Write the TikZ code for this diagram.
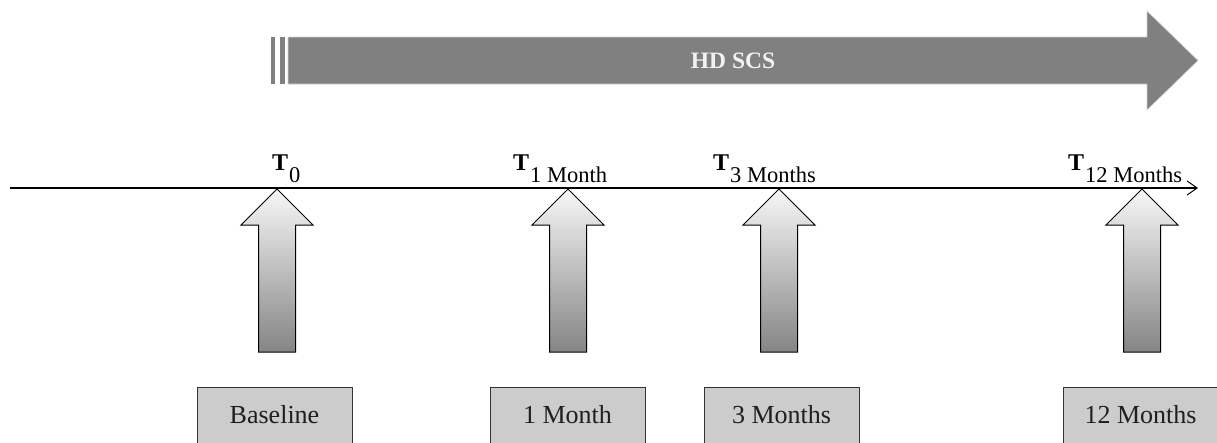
\documentclass[tikz,border=0pt]{standalone}
\usepackage{fontspec}
\setmainfont{Liberation Serif}
\usepackage{tikz}
\usetikzlibrary{arrows.meta}
\tikzset{
  boite/.style={draw=black!80, fill=black!20, line width=1pt},
  fleche/.style={draw=black, line width=1pt, top color=black!3, bottom color=black!48},
  etiquette/.style={anchor=base west, inner sep=0pt, font=\fontsize{24}{28}\selectfont\bfseries},
}
\begin{document}
\begin{tikzpicture}[x=1pt, y=-1pt, font=\fontsize{26}{30}\selectfont]
\useasboundingbox (0,0) rectangle (1217,442);
\clip (0,0) rectangle (1217,442);
% Fleche HD SCS
\fill[black!50] (271,37) rectangle (274.5,84);
\fill[black!50] (280,37) rectangle (284.5,84);
\filldraw[fill=black!50, draw=black!18, line width=0.6pt] (288,37) -- (1147,37) -- (1147,11) -- (1198,60.5) -- (1147,110) -- (1147,84) -- (288,84) -- cycle;
\node[text=black!5, font=\fontsize{23.5}{27}\selectfont\bfseries] (hdscs) at (733,61) {HD SCS};
% Axe
\coordinate (debut) at (10,188);
\coordinate (fin) at (1198,188);
\draw[line width=1.1pt, -{Straight Barb[length=10pt,width=14pt,line width=1pt]}] (debut) -- (fin);
% Temps
\foreach \x/\sub/\nom in {272/0/t0, 513/1 Month/t1, 713/3 Months/t3, 1068/12 Months/t12} {
  \node[etiquette] (\nom) at (\x,170) {T\hspace{1pt}\raisebox{-12pt}{\fontsize{22.5}{26}\mdseries\selectfont \sub}};
}
% Fleches
\foreach \x in {277,568,779,1142} {
  \draw[fleche] (\x,189) -- (\x+36,225) -- (\x+18.5,225) -- (\x+18.5,352) -- (\x-18.5,352) -- (\x-18.5,225) -- (\x-36,225) -- cycle;
}
% Boites
\foreach \x/\txt/\nom in {197/Baseline/base, 490/1 Month/m1, 704/3 Months/m3, 1063/12 Months/m12} {
  \draw[boite] (\x,387) rectangle ++(155,70);
  \node[text=black!88] (\nom) at (\x+77.5,415) {\txt};
}
\end{tikzpicture}
\end{document}
